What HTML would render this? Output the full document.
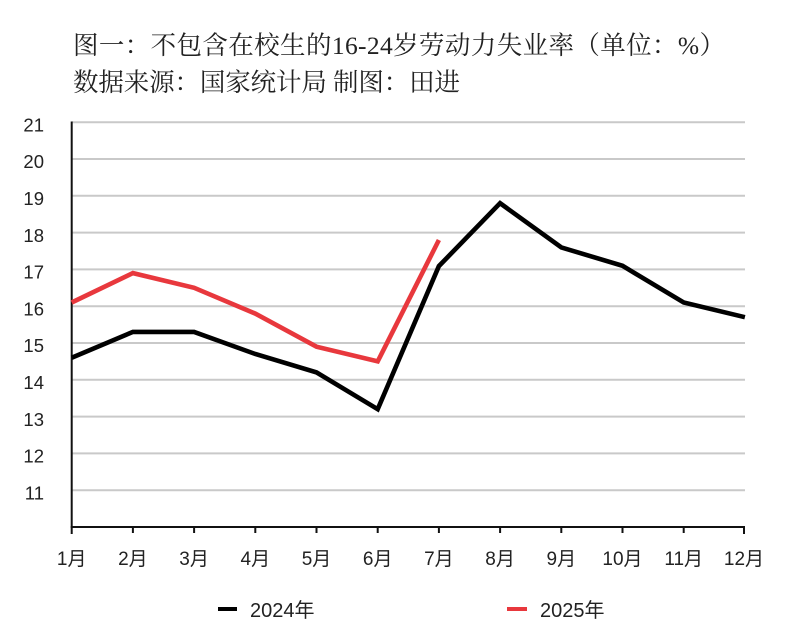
<!DOCTYPE html>
<html>
<head>
<meta charset="utf-8">
<style>
  html, body { margin: 0; padding: 0; background: #ffffff; }
  body { width: 800px; height: 644px; overflow: hidden; }
  svg { display: block; }
</style>
</head>
<body>
<svg width="800" height="644" viewBox="0 0 800 644" xmlns="http://www.w3.org/2000/svg">
  <rect x="0" y="0" width="800" height="644" fill="#ffffff"/>

  <!-- Title -->
  <g font-family="'Liberation Serif', 'Noto Serif CJK SC', serif" font-size="25.5" fill="#222222">
    <text x="73" y="54" textLength="652" lengthAdjust="spacing">图一：不包含在校生的16-24岁劳动力失业率（单位：%）</text>
    <text x="73" y="91" textLength="387" lengthAdjust="spacing">数据来源：国家统计局 制图：田进</text>
  </g>

  <!-- Gridlines 11..21 -->
  <g stroke="#c9c9c9" stroke-width="2">
    <line x1="72" y1="122.2" x2="745" y2="122.2"/>
    <line x1="72" y1="159.0" x2="745" y2="159.0"/>
    <line x1="72" y1="195.8" x2="745" y2="195.8"/>
    <line x1="72" y1="232.6" x2="745" y2="232.6"/>
    <line x1="72" y1="269.4" x2="745" y2="269.4"/>
    <line x1="72" y1="306.2" x2="745" y2="306.2"/>
    <line x1="72" y1="343.0" x2="745" y2="343.0"/>
    <line x1="72" y1="379.8" x2="745" y2="379.8"/>
    <line x1="72" y1="416.6" x2="745" y2="416.6"/>
    <line x1="72" y1="453.4" x2="745" y2="453.4"/>
    <line x1="72" y1="490.2" x2="745" y2="490.2"/>
  </g>

  <!-- Axes -->
  <g stroke="#111111" stroke-width="2" fill="none">
    <line x1="71.7" y1="121.5" x2="71.7" y2="534"/>
    <line x1="70.7" y1="527" x2="745" y2="527"/>
    <line x1="132.9" y1="527" x2="132.9" y2="533"/>
    <line x1="194.1" y1="527" x2="194.1" y2="533"/>
    <line x1="255.3" y1="527" x2="255.3" y2="533"/>
    <line x1="316.5" y1="527" x2="316.5" y2="533"/>
    <line x1="377.7" y1="527" x2="377.7" y2="533"/>
    <line x1="438.9" y1="527" x2="438.9" y2="533"/>
    <line x1="500.1" y1="527" x2="500.1" y2="533"/>
    <line x1="561.3" y1="527" x2="561.3" y2="533"/>
    <line x1="622.5" y1="527" x2="622.5" y2="533"/>
    <line x1="683.7" y1="527" x2="683.7" y2="533"/>
    <line x1="744.0" y1="527" x2="744.0" y2="534"/>
  </g>

  <!-- Y labels -->
  <g font-family="'Liberation Sans', 'Noto Sans CJK SC', sans-serif" font-size="18.5" fill="#222222" text-anchor="end">
    <text x="44" y="131.4">21</text>
    <text x="44" y="168.2">20</text>
    <text x="44" y="205.0">19</text>
    <text x="44" y="241.8">18</text>
    <text x="44" y="278.6">17</text>
    <text x="44" y="315.4">16</text>
    <text x="44" y="352.2">15</text>
    <text x="44" y="389.0">14</text>
    <text x="44" y="425.8">13</text>
    <text x="44" y="462.6">12</text>
    <text x="44" y="499.4">11</text>
  </g>

  <!-- X labels -->
  <g font-family="'Liberation Sans', 'Noto Sans CJK SC', sans-serif" font-size="19" fill="#222222" text-anchor="middle">
    <text x="71.7" y="565">1月</text>
    <text x="132.9" y="565">2月</text>
    <text x="194.1" y="565">3月</text>
    <text x="255.3" y="565">4月</text>
    <text x="316.5" y="565">5月</text>
    <text x="377.7" y="565">6月</text>
    <text x="438.9" y="565">7月</text>
    <text x="500.1" y="565">8月</text>
    <text x="561.3" y="565">9月</text>
    <text x="622.5" y="565">10月</text>
    <text x="683.7" y="565">11月</text>
    <text x="744.0" y="565">12月</text>
  </g>

  <!-- 2024 series -->
  <polyline fill="none" stroke="#000000" stroke-width="4.6" stroke-linejoin="miter" stroke-miterlimit="10"
    points="71.7,357.7 132.9,331.9 194.1,331.9 255.3,354.0 316.5,372.4 377.7,409.2 438.9,266.1 500.1,203.2 561.3,247.4 622.5,265.8 683.7,302.5 744.9,317.2"/>

  <!-- 2025 series -->
  <polyline fill="none" stroke="#e8383d" stroke-width="4.6" stroke-linejoin="miter" stroke-miterlimit="10"
    points="71.7,302.5 132.9,273.1 194.1,287.8 255.3,313.6 316.5,346.7 377.7,361.4 438.9,240.0"/>

  <!-- Legend -->
  <line x1="218" y1="609" x2="237" y2="609" stroke="#000000" stroke-width="4"/>
  <text x="250" y="617" font-family="'Liberation Sans', 'Noto Sans CJK SC', sans-serif" font-size="20" fill="#222222">2024年</text>
  <line x1="507" y1="609" x2="527" y2="609" stroke="#e8383d" stroke-width="4"/>
  <text x="540" y="617" font-family="'Liberation Sans', 'Noto Sans CJK SC', sans-serif" font-size="20" fill="#222222">2025年</text>
</svg>
</body>
</html>
